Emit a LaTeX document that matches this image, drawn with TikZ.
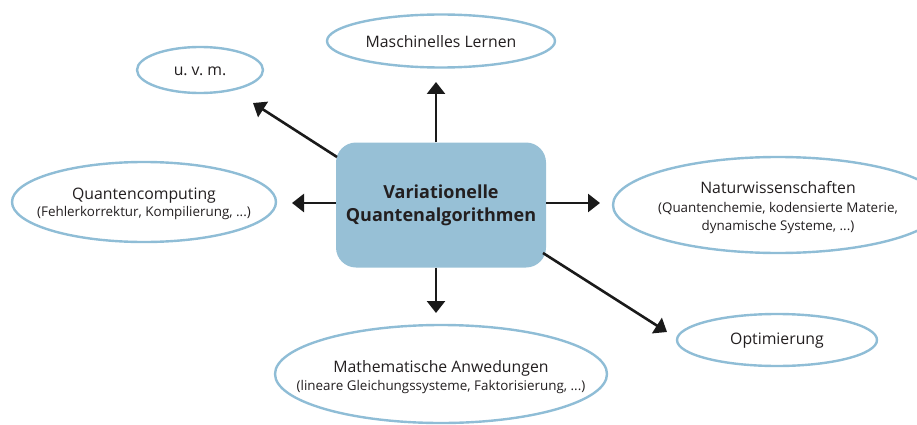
\documentclass[tikz,border=0pt]{standalone}
\usepackage{fontspec}
\setmainfont{Open Sans}
\usetikzlibrary{shapes.geometric,arrows.meta}
\definecolor{ellline}{HTML}{8FBDD6}
\definecolor{boxfill}{HTML}{97C0D6}
\definecolor{arrowc}{HTML}{1A1A1A}
\definecolor{txt}{HTML}{231F20}
\newcommand\subtxt{\fontsize{13.4}{17}\selectfont}
\tikzset{
  topic/.style={ellipse, draw=ellline, line width=2.4pt, fill=white, inner sep=0pt},
  topictext/.style={align=center, inner sep=0pt, font=\fontsize{15.8}{17.5}\selectfont, text=txt},
  center/.style={rectangle, rounded corners=20pt, fill=boxfill, minimum width=210pt, minimum height=125pt, align=center, inner sep=0pt, font=\fontsize{18}{23}\selectfont\bfseries, text=txt},
  arr/.style={draw=arrowc, line width=2.6pt, -{Triangle[length=12pt,width=18pt]}}
}
\begin{document}
\begin{tikzpicture}[x=1pt,y=-1pt]
\useasboundingbox (0,0) rectangle (917,425);
\node[center] (vqa) at (441,205) {Variationelle\\Quantenalgorithmen};
\node[topic, minimum width=228pt, minimum height=53pt] (ml) at (441,41) {};
\node[topictext] (mlT) at ([yshift=-1pt]ml.center) {Maschinelles Lernen};
\node[topic, minimum width=126pt, minimum height=46pt] (uvm) at (200,70) {};
\node[topictext] (uvmT) at ([yshift=-1pt]uvm.center) {u.~v.~m.};
\node[topic, minimum width=264pt, minimum height=80pt] (qc) at (144,202) {};
\node[topictext] (qcT) at ([yshift=-2pt]qc.center) {Quantencomputing\\{\subtxt(Fehlerkorrektur, Kompilierung, ...)}};
\node[topic, minimum width=330pt, minimum height=96pt] (nw) at (778,205) {};
\node[topictext, font=\fontsize{15.8}{18.5}\selectfont] (nwT) at ([yshift=-3pt]nw.center) {Naturwissenschaften\\{\subtxt(Quantenchemie, kodensierte Materie,}\\{\subtxt dynamische Systeme, ...)}};
\node[topic, minimum width=200pt, minimum height=52pt] (opt) at (777,340) {};
\node[topictext] (optT) at ([yshift=-1pt]opt.center) {Optimierung};
\node[topic, minimum width=332pt, minimum height=98pt] (ma) at (441,374) {};
\node[topictext] (maT) at ([yshift=-3pt]ma.center) {Mathematische Anwedungen\\{\subtxt(lineare Gleichungssysteme, Faktorisierung, ...)}};
\coordinate (tUp) at (436,82);
\coordinate (tDown) at (436,313);
\coordinate (tLeft) at (292,203);
\coordinate (tRight) at (600,203);
\coordinate (tUL) at (253,103);
\coordinate (tLR) at (667,332);
\coordinate (sUL) at (337,157);
\coordinate (sLR) at (543,253);
\draw[arr] (vqa.north -| tUp) -- (tUp);
\draw[arr] (vqa.south -| tDown) -- (tDown);
\draw[arr] (vqa.west |- tLeft) -- (tLeft);
\draw[arr] (vqa.east |- tRight) -- (tRight);
\draw[arr] (sUL) -- (tUL);
\draw[arr] (sLR) -- (tLR);
\end{tikzpicture}
\end{document}
